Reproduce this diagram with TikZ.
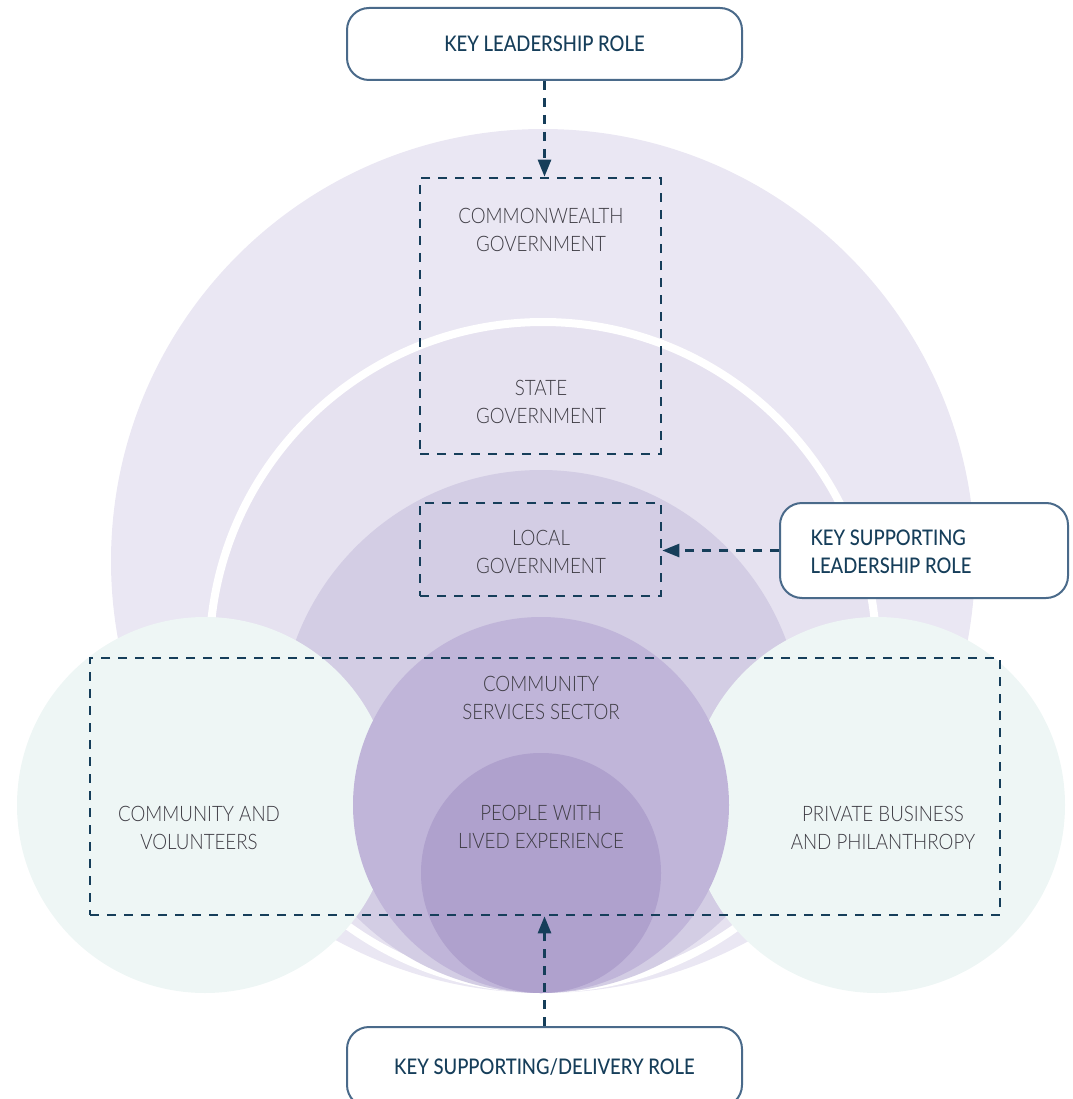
\documentclass[tikz,border=0pt]{standalone}
\usepackage{fontspec}
\setmainfont{Lato}
\newfontfamily\lightfont{Lato Light}[FakeStretch=0.88]
\newfontfamily\rolefont{Lato Medium}[FakeStretch=0.86]
\usetikzlibrary{arrows.meta}
\definecolor{lavA}{RGB}{234,231,243}
\definecolor{lavB}{RGB}{230,226,240}
\definecolor{lavC}{RGB}{211,205,228}
\definecolor{lavD}{RGB}{192,181,217}
\definecolor{lavE}{RGB}{175,161,205}
\definecolor{mint}{RGB}{238,246,245}
\definecolor{navy}{RGB}{22,62,90}
\definecolor{boxline}{RGB}{74,106,138}
\definecolor{labelgray}{RGB}{62,60,68}
\tikzset{
  dbox/.style={draw=navy, line width=2.6pt, dash pattern=on 9pt off 8pt, inner sep=0pt},
  rolebox/.style={draw=boxline, line width=2pt, rounded corners=22pt, fill=white, inner sep=0pt},
  roletext/.style={text=navy, font=\rolefont\fontsize{21.5}{28}\selectfont, align=center},
  lbl/.style={text=labelgray, font=\lightfont\fontsize{21.3}{28}\selectfont, align=center},
  darrow/.style={draw=navy, line width=2.6pt, dash pattern=on 9pt off 8pt, -{Triangle[length=17pt,width=13pt]}}
}
\begin{document}
\begin{tikzpicture}[x=1pt,y=-1pt]
\useasboundingbox (0,0) rectangle (1072,1099);
\clip (0,0) rectangle (1072,1099);
% nested circles
\fill[lavA] (543,561) circle (432);
\fill[lavB, draw=white, line width=8pt] (543,655.5) circle (333.5);
\fill[lavC] (541,731.5) circle (261.5);
\fill[mint] (205,805) circle (188);
\fill[mint] (877,805) circle (188);
\fill[lavD] (541,805) circle (188);
\fill[lavE] (541,873) circle (120);
% dashed boxes
\node[dbox, minimum width=241, minimum height=276] (fedbox) at (540.5,316) {};
\node[dbox, minimum width=241, minimum height=93] (localbox) at (540.5,549.5) {};
\node[dbox, minimum width=910, minimum height=257] (widebox) at (545,786.5) {};
% labels
\node[lbl] (cw) at (541,230) {COMMONWEALTH\\GOVERNMENT};
\node[lbl] (st) at (541,402) {STATE\\GOVERNMENT};
\node[lbl] (lg) at (541,552) {LOCAL\\GOVERNMENT};
\node[lbl] (css) at (541,698) {COMMUNITY\\SERVICES SECTOR};
\node[lbl] (ple) at (541,827) {PEOPLE WITH\\LIVED EXPERIENCE};
\node[lbl] (cv) at (199,828) {COMMUNITY AND\\VOLUNTEERS};
\node[lbl] (pb) at (883,828) {PRIVATE BUSINESS\\AND PHILANTHROPY};
% role boxes
\node[rolebox, minimum width=395, minimum height=72] (lead) at (544.5,44) {};
\node[roletext] (leadtxt) at (lead.center) {KEY LEADERSHIP ROLE};
\node[rolebox, minimum width=288, minimum height=95] (supp) at (924,550.5) {};
\node[roletext, align=left, anchor=west] (supptxt) at (807,552) {KEY SUPPORTING\\LEADERSHIP ROLE};
\node[rolebox, minimum width=395, minimum height=80] (deliv) at (544.5,1067) {};
\node[roletext] (delivtxt) at (deliv.center) {KEY SUPPORTING/DELIVERY ROLE};
% arrows
\draw[darrow] (lead.south) -- (lead.south |- fedbox.north);
\draw[darrow] (supp.west) -- (supp.west -| localbox.east);
\draw[darrow] (deliv.north) -- (deliv.north |- widebox.south);
\end{tikzpicture}
\end{document}
